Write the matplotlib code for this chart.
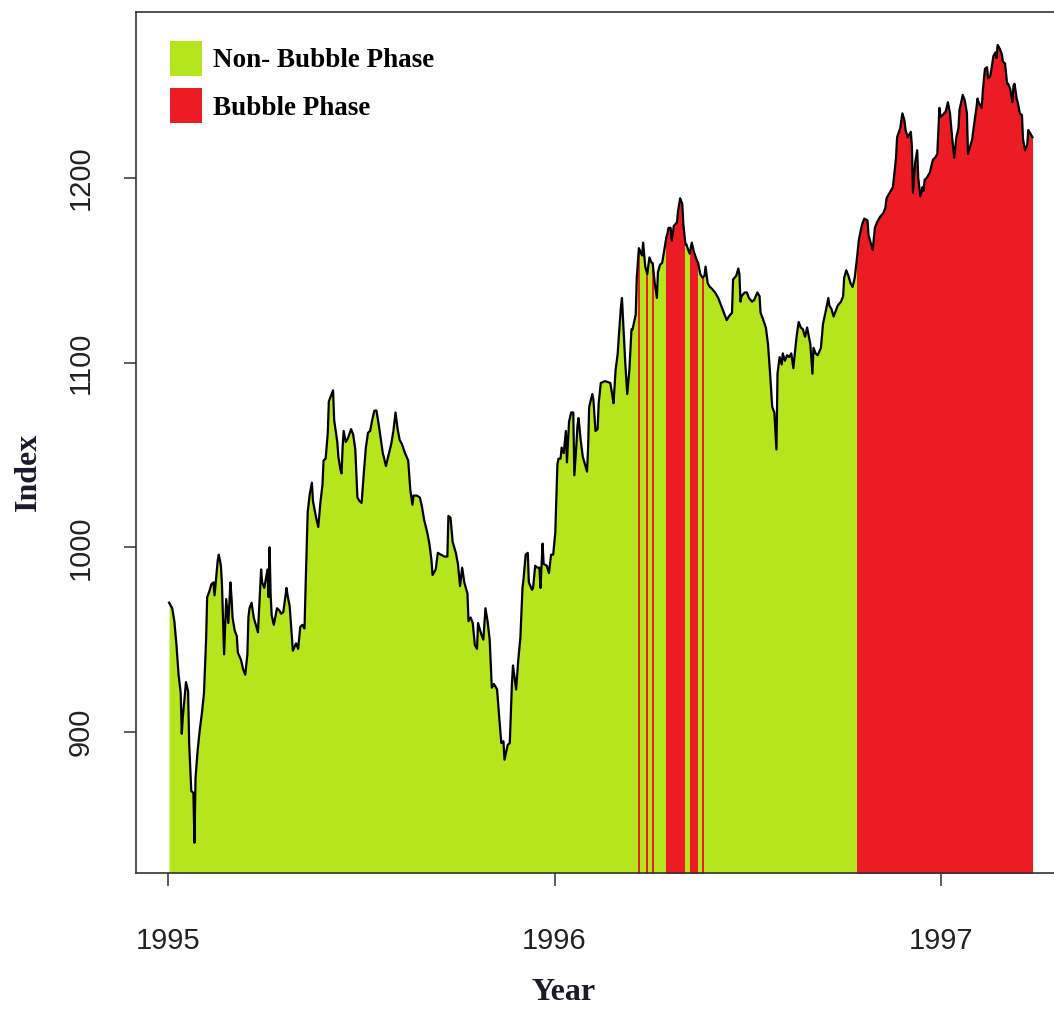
import numpy as np
import matplotlib
matplotlib.use("Agg")
import matplotlib.pyplot as plt
from matplotlib.patches import Patch
from matplotlib.path import Path

# ---- data (days since 1995-01-01, index level) ----
days = [
    1, 4, 6, 8, 10, 12, 13, 14, 17, 19, 20, 22, 24, 25, 26, 28, 30, 32, 34, 36,
    37, 39, 41, 43, 44, 47, 48, 50, 51, 53, 55, 57, 59, 60, 61, 63, 65, 66, 69, 71,
    73, 75, 76, 77, 79, 81, 83, 85, 88, 89, 91, 94, 95, 96, 97, 98, 100, 103, 105, 107,
    109, 112, 113, 115, 117, 118, 121, 123, 125, 127, 129, 130, 132, 134, 136, 137, 140, 142, 144, 146,
    147, 149, 151, 152, 154, 156, 157, 160, 161, 163, 164, 165, 166, 168, 170, 173, 175, 177, 179, 181,
    183, 185, 187, 189, 191, 193, 195, 197, 199, 201, 203, 206, 208, 211, 213, 215, 217, 219, 221, 224,
    227, 229, 231, 232, 235, 238, 240, 242, 245, 247, 249, 250, 253, 255, 258, 261, 264, 265, 267, 269,
    272, 274, 276, 278, 280, 283, 284, 286, 288, 290, 292, 293, 296, 298, 300, 302, 304, 306, 308, 311,
    313, 315, 317, 318, 321, 323, 325, 326, 329, 331, 333, 335, 336, 338, 340, 341, 344, 345, 347, 349,
    351, 352, 354, 355, 358, 360, 362, 364, 366, 368, 369, 371, 372, 374, 376, 377, 379, 381, 383, 384,
    386, 387, 388, 390, 392, 394, 396, 397, 398, 401, 402, 404, 406, 407, 409, 413, 418, 420, 421, 423,
    425, 426, 428, 429, 430, 432, 434, 436, 438, 439, 442, 443, 445, 448, 449, 451, 453, 454, 455, 457,
    458, 460, 462, 463, 465, 467, 469, 471, 472, 473, 475, 476, 478, 481, 482, 484, 486, 487, 489, 490,
    491, 493, 495, 497, 500, 501, 503, 505, 507, 508, 510, 512, 514, 517, 520, 522, 524, 526, 528, 530,
    533, 534, 537, 539, 540, 541, 542, 545, 547, 549, 552, 554, 557, 559, 560, 562, 565, 567, 569, 571,
    573, 575, 576, 578, 580, 581, 583, 585, 587, 589, 591, 592, 594, 596, 598, 600, 602, 604, 605, 607,
    609, 610, 612, 614, 617, 619, 622, 624, 625, 627, 629, 631, 633, 636, 638, 639, 641, 643, 645, 647,
    649, 651, 653, 656, 658, 661, 662, 664, 666, 668, 670, 673, 676, 678, 679, 682, 685, 686, 688, 689,
    692, 694, 696, 697, 699, 702, 703, 704, 706, 708, 709, 711, 713, 714, 715, 717, 720, 722, 723, 725,
    727, 729, 730, 732, 735, 737, 739, 741, 743, 745, 747, 748, 750, 751, 753, 755, 756, 758, 760, 762,
    764, 765, 766, 769, 770, 772, 774, 775, 777, 779, 780, 782, 783, 784, 786, 788, 789, 791, 793, 794,
    796, 798, 799, 800, 802, 803, 805, 807, 808, 810, 812, 813, 815, 817,
]
index_values = [
    970, 967, 960, 947, 931, 921, 899, 908, 927, 922, 894, 868, 867, 840, 875, 890, 901, 910, 921, 950,
    973, 976, 980, 981, 974, 993, 996, 990, 980, 942, 972, 959, 981, 973, 962, 955, 952, 943, 939, 934,
    931, 942, 962, 967, 970, 962, 958, 954, 988, 981, 978, 988, 973, 1000, 974, 963, 958, 967, 966, 964,
    965, 978, 974, 968, 952, 944, 948, 945, 957, 958, 956, 978, 1019, 1029, 1035, 1025, 1016, 1011, 1024, 1034,
    1047, 1048, 1062, 1079, 1082, 1085, 1069, 1057, 1049, 1042, 1040, 1054, 1063, 1057, 1059, 1064, 1061, 1053, 1027, 1025,
    1024, 1040, 1054, 1062, 1063, 1069, 1074, 1074, 1067, 1059, 1051, 1044, 1049, 1056, 1063, 1073, 1064, 1058, 1056, 1051,
    1047, 1031, 1023, 1028, 1028, 1027, 1022, 1015, 1008, 1002, 993, 985, 988, 997, 996, 995, 995, 1017, 1016, 1003,
    997, 991, 979, 989, 981, 975, 960, 962, 959, 947, 945, 959, 953, 950, 967, 960, 950, 924, 926, 923,
    908, 894, 895, 885, 893, 894, 926, 936, 923, 939, 951, 978, 983, 996, 997, 981, 977, 978, 990, 989,
    989, 978, 1002, 991, 990, 986, 996, 996, 1008, 1045, 1048, 1048, 1054, 1051, 1063, 1046, 1068, 1073, 1073, 1039,
    1056, 1066, 1070, 1058, 1049, 1045, 1041, 1054, 1076, 1083, 1080, 1063, 1064, 1078, 1089, 1090, 1089, 1082, 1078, 1096,
    1105, 1114, 1130, 1135, 1124, 1101, 1083, 1096, 1118, 1118, 1126, 1146, 1162, 1158, 1165, 1152, 1148, 1153, 1157, 1154,
    1154, 1143, 1135, 1149, 1153, 1154, 1161, 1168, 1170, 1173, 1173, 1166, 1174, 1176, 1182, 1189, 1186, 1175, 1164, 1164,
    1162, 1159, 1165, 1160, 1155, 1154, 1148, 1146, 1147, 1152, 1143, 1141, 1140, 1138, 1135, 1132, 1129, 1126, 1123, 1125,
    1127, 1145, 1147, 1151, 1148, 1133, 1136, 1138, 1138, 1135, 1133, 1134, 1138, 1136, 1127, 1124, 1119, 1110, 1094, 1076,
    1073, 1053, 1094, 1103, 1099, 1105, 1101, 1104, 1103, 1105, 1097, 1103, 1114, 1122, 1119, 1118, 1114, 1119, 1116, 1110,
    1094, 1108, 1105, 1104, 1108, 1121, 1129, 1135, 1131, 1129, 1125, 1128, 1131, 1133, 1136, 1146, 1150, 1147, 1143, 1141,
    1146, 1156, 1167, 1175, 1178, 1177, 1169, 1165, 1161, 1173, 1176, 1179, 1181, 1184, 1189, 1192, 1195, 1200, 1211, 1222,
    1227, 1235, 1231, 1226, 1222, 1225, 1217, 1192, 1208, 1215, 1200, 1190, 1195, 1193, 1199, 1200, 1203, 1208, 1210, 1211,
    1213, 1238, 1233, 1234, 1236, 1241, 1235, 1222, 1211, 1222, 1227, 1237, 1242, 1245, 1242, 1235, 1213, 1217, 1221, 1230,
    1238, 1243, 1241, 1238, 1247, 1259, 1260, 1254, 1255, 1262, 1266, 1268, 1265, 1272, 1270, 1267, 1263, 1262, 1251, 1251,
    1248, 1241, 1250, 1251, 1243, 1241, 1235, 1234, 1221, 1215, 1218, 1226, 1224, 1222,
]
# bubble phases (start day, end day)
bubble_periods = [(444, 446), (452, 454), (457, 459), (471, 489), (493, 501), (505, 507), (651, 818)]

year_ticks = [1995, 1996, 1997]
index_ticks = [900, 1000, 1100, 1200]
legend_labels = ["Non- Bubble Phase", "Bubble Phase"]

GREEN = "#B5E61D"
RED = "#ED1C24"

years = 1995 + np.asarray(days, dtype=float) / 365.25
vals = np.asarray(index_values, dtype=float)

W, H = 1054, 1010
fig = plt.figure(figsize=(W / 100, H / 100), dpi=100)
left_px, right_px, top_px, bot_px = 136, 1060, 12, 873
ax = fig.add_axes([left_px / W, 1 - bot_px / H, (right_px - left_px) / W, (bot_px - top_px) / H])

x0 = 1995 + (left_px - 168) / 386.5
x1 = 1995 + (right_px - 168) / 386.5
y_lo = 1000 + (547.3 - bot_px) / 1.8467
y_hi = 1000 + (547.3 - top_px) / 1.8467
ax.set_xlim(x0, x1)
ax.set_ylim(y_lo, y_hi)

ax.fill_between(years, vals, y_lo, color=GREEN, lw=0, zorder=1)
red = ax.fill_between(years, vals, y_lo, color=RED, lw=0, zorder=2)
rects = []
for a, b in bubble_periods:
    ya, yb = 1995 + a / 365.25, 1995 + b / 365.25
    rects.append(Path([(ya, y_lo - 50), (yb, y_lo - 50), (yb, y_hi + 50), (ya, y_hi + 50), (ya, y_lo - 50)], closed=True))
red.set_clip_path(Path.make_compound_path(*rects), ax.transData)

ax.plot(years, vals, color="black", lw=1.6, zorder=3)

ax.set_xticks(year_ticks)
ax.set_xticklabels([str(y) for y in year_ticks])
ax.set_yticks(index_ticks)
ax.set_yticklabels([str(v) for v in index_ticks], rotation=90, va="center")
for lab in ax.get_xticklabels() + ax.get_yticklabels():
    lab.set_fontfamily("Liberation Sans")
    lab.set_fontsize(21)
    lab.set_color("#222222")
ax.tick_params(axis="both", direction="out", length=9, width=1.1, color="#333333")
ax.tick_params(axis="x", pad=30)
ax.tick_params(axis="y", pad=21)
for s in ax.spines.values():
    s.set_linewidth(1.2)
    s.set_color("#333333")

lab_font = dict(family="Liberation Serif", weight="bold", size=23, color="#1a1a2a")
ax.set_xlabel("Year", **lab_font)
ax.set_ylabel("Index", **lab_font)
ax.xaxis.set_label_coords((564 - left_px) / (right_px - left_px), -(993 - bot_px) / (bot_px - top_px), transform=ax.transAxes)
ax.yaxis.set_label_coords(-(136 - 28) / (right_px - left_px), (bot_px - 472) / (bot_px - top_px), transform=ax.transAxes)
ax.xaxis.label.set_va("center")
ax.yaxis.label.set_va("center")

handles = [Patch(facecolor=GREEN, edgecolor="none"), Patch(facecolor=RED, edgecolor="none")]
leg = ax.legend(handles, legend_labels, loc="upper left",
                bbox_to_anchor=(170 / W, 1 - 41 / H), bbox_transform=fig.transFigure,
                frameon=False, borderaxespad=0, borderpad=0,
                handlelength=1.18, handleheight=1.62, handletextpad=0.42, labelspacing=0.45,
                prop=dict(family="Liberation Serif", weight="bold", size=19.5))

fig.savefig("out.png", dpi=100)
